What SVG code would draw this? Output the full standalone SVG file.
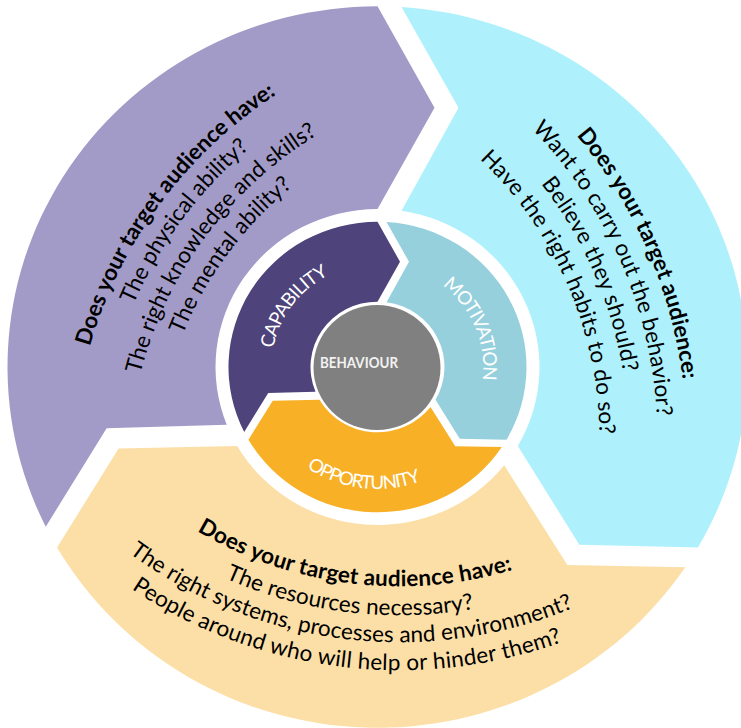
<svg xmlns="http://www.w3.org/2000/svg" width="741" height="728" viewBox="0 0 741 728">
<style>
.t{font-family:Lato,"Open Sans","Liberation Sans",sans-serif;}
.o{font-size:22.5px;fill:#000;}
.b{font-weight:bold;}
.l{font-size:19px;fill:#fff;}
.pu{fill:#A39BC7;}
.cy{fill:#AEF1FC;}
.ye{fill:#FBDFA7;}
.ca{fill:#4E437A;}
.mo{fill:#96D0DD;}
.op{fill:#F8B026;}
</style>
<defs>
<path id="p1" d="M 73.0,498.9 A 450 450 0 0 1 417.1,33.8"/>
<path id="p2" d="M 100.0,497.2 A 423 423 0 0 1 423.5,60.1"/>
<path id="p3" d="M 128.9,495.5 A 394 394 0 0 1 430.2,88.3"/>
<path id="p4" d="M 156.9,493.7 A 366 366 0 0 1 436.8,115.5"/>
<path id="c1" d="M 423.9,14.6 A 474 474 0 0 1 666.9,573.4"/>
<path id="c2" d="M 411.0,40.6 A 445 445 0 0 1 639.1,565.2"/>
<path id="c3" d="M 398.0,66.5 A 416 416 0 0 1 611.3,557.0"/>
<path id="c4" d="M 385.1,92.5 A 387 387 0 0 1 583.5,548.7"/>
<path id="y1" d="M 108.3,459.7 A 398 398 0 0 0 616.2,522.1"/>
<path id="y2" d="M 87.1,479.5 A 427 427 0 0 0 632.0,546.4"/>
<path id="y3" d="M 67.4,497.9 A 454 454 0 0 0 646.7,569.1"/>
<path id="y4" d="M 46.9,517.0 A 482 482 0 0 0 661.9,592.5"/>
<path id="capP" d="M -70.2,79.4 A 106 106 0 0 1 55.4,-90.4"/>
<path id="motP" d="M -31.9,-101.1 A 106 106 0 0 1 48.9,94.0"/>
<path id="oppP" d="M -124.9,-4.4 A 125 125 0 0 0 122.3,26.0"/>
</defs>
<rect width="741" height="728" fill="#fff"/>
<g id="connectors"/>
<g id="capability-questions">
<path class="pu" transform="translate(377.5,367) scale(1,0.975)" d="M -331.75,163.83 A 370 370 0 0 1 0,-370 L 57,-266 L 0,-162 A 162 162 0 0 0 -150.74,59.32 L -270.86,62.85 Z"/>
<text class="t o b"><textPath href="#p1" startOffset="50%" text-anchor="middle" textLength="320" lengthAdjust="spacing">Does your target audience have:</textPath></text>
<text class="t o"><textPath href="#p2" startOffset="50%" text-anchor="middle" textLength="196" lengthAdjust="spacing">The physical ability?</textPath></text>
<text class="t o"><textPath href="#p3" startOffset="50%" text-anchor="middle" textLength="305" lengthAdjust="spacing">The right knowledge and skills?</textPath></text>
<text class="t o"><textPath href="#p4" startOffset="50%" text-anchor="middle" textLength="186" lengthAdjust="spacing">The mental ability?</textPath></text>
</g>
<g id="motivation-questions">
<path class="cy" transform="translate(377.5,367) scale(1,0.975)" d="M 24,-369.22 A 370 370 0 0 1 320.43,185 L 201.86,182.36 L 140.30,81 A 162 162 0 0 0 24,-160.21 L 81,-266 Z"/>
<text class="t o b"><textPath href="#c1" startOffset="50%" text-anchor="middle" textLength="270" lengthAdjust="spacing">Does your target audience:</textPath></text>
<text class="t o"><textPath href="#c2" startOffset="50%" text-anchor="middle" textLength="320" lengthAdjust="spacing">Want to carry out the behavior?</textPath></text>
<text class="t o"><textPath href="#c3" startOffset="50%" text-anchor="middle" textLength="208" lengthAdjust="spacing">Believe they should?</textPath></text>
<text class="t o"><textPath href="#c4" startOffset="50%" text-anchor="middle" textLength="308" lengthAdjust="spacing">Have the right habits to do so?</textPath></text>
</g>
<g id="opportunity-questions">
<path class="ye" transform="translate(377.5,367) scale(1,0.975)" d="M 307.75,205.39 A 370 370 0 0 1 -320.43,185 L -258.86,83.64 L -140.30,81 A 162 162 0 0 0 126.74,100.88 L 189.86,203.15 Z"/>
<text class="t o b"><textPath href="#y1" startOffset="50%" text-anchor="middle" textLength="327" lengthAdjust="spacing">Does your target audience have:</textPath></text>
<text class="t o"><textPath href="#y2" startOffset="50%" text-anchor="middle" textLength="254" lengthAdjust="spacing">The resources necessary?</textPath></text>
<text class="t o"><textPath href="#y3" startOffset="50%" text-anchor="middle" textLength="468" lengthAdjust="spacing">The right systems, processes and environment?</textPath></text>
<text class="t o"><textPath href="#y4" startOffset="50%" text-anchor="middle" textLength="450" lengthAdjust="spacing">People around who will help or hinder them?</textPath></text>
</g>
<g transform="translate(377.5,367) scale(1,0.975)">
<g id="capability">
<path class="ca" d="M -133.30,66.58 A 149 149 0 0 1 0,-149 L 22.5,-108 L 0,-67 A 67 67 0 0 0 -62,25.41 L -109.28,26.72 Z"/>
<text class="t l"><textPath href="#capP" startOffset="50%" text-anchor="middle" textLength="97" lengthAdjust="spacing">CAPABILITY</textPath></text>
</g>
<g id="motivation">
<path class="mo" d="M 9,-148.73 A 149 149 0 0 1 129.04,74.5 L 82.28,73.49 L 58.02,33.5 A 67 67 0 0 0 9,-66.39 L 31.5,-108 Z"/>
<text class="t l"><textPath href="#motP" startOffset="50%" text-anchor="middle" textLength="110" lengthAdjust="spacing">MOTIVATION</textPath></text>
</g>
<g id="opportunity">
<path class="op" d="M 124.30,82.16 A 149 149 0 0 1 -129.04,74.5 L -104.78,34.51 L -58.02,33.5 A 67 67 0 0 0 53,40.99 L 77.78,81.28 Z"/>
<text class="t l"><textPath href="#oppP" startOffset="50%" text-anchor="middle" textLength="120" lengthAdjust="spacing">OPPORTUNITY</textPath></text>
</g>
</g>
<g id="behaviour">
<ellipse cx="377" cy="367.5" rx="63.5" ry="62.5" fill="#808080"/>
<text class="t b" x="359" y="368" font-size="15" fill="#F2F2F2" text-anchor="middle" textLength="78" lengthAdjust="spacingAndGlyphs">BEHAVIOUR</text>
</g>
</svg>
